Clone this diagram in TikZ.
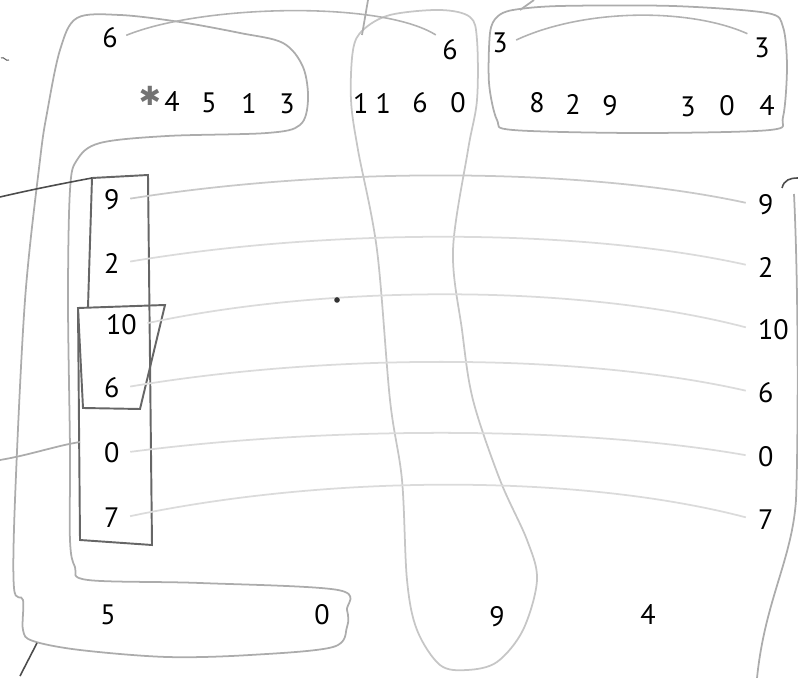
\documentclass[tikz,border=0pt]{standalone}
\usepackage{fontspec}
\newfontfamily\digitfont{PT Sans}
\newfontfamily\symfont{DejaVu Sans}
\tikzset{
  num/.style={font=\digitfont\fontsize{16}{18}\selectfont,text=black,inner sep=1pt},
  star/.style={font=\symfont\fontsize{15}{16}\selectfont,text=black!55,inner sep=0pt},
  rim/.style={gray!65,line width=1pt},
  blob/.style={gray!45,line width=1pt},
  frm/.style={black!60,line width=1.1pt},
  lane/.style={gray!28,line width=1pt,shorten <=5pt,shorten >=6pt},
  tie/.style={gray!60,line width=0.9pt,shorten <=4pt,shorten >=3pt},
  pen/.style={black!70,line width=0.9pt}
}

\begin{document}
\begin{tikzpicture}[x=0.02cm,y=-0.02cm]
\useasboundingbox (0,0) rectangle (798,678);
\draw[rim] plot[smooth cycle,tension=0.55] coordinates {(77,18) (120,15) (180,22) (240,33) (283,43) (303,67) (308,100) (300,125) (267,133) (167,136) (100,143) (77,160) (70,190) (68,300) (70,450) (70,540) (75,567) (88,580) (200,583) (338,590) (347,610) (347,627) (333,647) (250,655) (167,657) (80,650) (33,641) (23,630) (23,600) (14,588) (15,500) (25,300) (40,160) (47,113) (60,50)};
\draw[blob] plot[smooth cycle,tension=0.55] coordinates {(353,50) (363,30) (390,15) (440,10) (470,17) (477,40) (477,100) (468,150) (453,250) (462,330) (473,400) (500,480) (527,540) (537,580) (523,630) (497,662) (467,670) (440,665) (417,630) (407,580) (402,480) (390,400) (377,250) (358,150) (351,100)};
\draw[rim] plot[smooth cycle,tension=0.5] coordinates {(497,17) (490,33) (489,83) (497,120) (513,130) (640,133) (770,130) (783,117) (787,67) (783,27) (767,13) (673,6) (560,6) (513,10)};
\draw[frm] (88,307) -- (92,178) coordinate (bx) -- (148,175) -- (152,545) -- (80,540) -- (78,308);
\draw[frm] (78,308) -- (165,305) -- (140,409) -- (83,408) -- cycle;

\node[num] (t6) at (110,38) {6};
\node[star] (st) at (150,96) {✱};
\node[num] (a4) at (172,102) {4};
\node[num] (a5) at (209,103) {5};
\node[num] (a1) at (249,103) {1};
\node[num] (a3) at (287,104) {3};
\node[num] (m6) at (450,50) {6};
\node[num] (m11) at (372,103) {1\hspace{4pt}1};
\node[num] (m6b) at (420,103) {6};
\node[num] (m0) at (458,103) {0};
\node[num] (r3a) at (500,43) {3};
\node[num] (r3b) at (762,48) {3};
\node[num] (b8) at (537,103) {8};
\node[num] (b2) at (573,104) {2};
\node[num] (b9) at (610,106) {9};
\node[num] (b3) at (688,107) {3};
\node[num] (b0) at (727,106) {0};
\node[num] (b4) at (767,106) {4};

\node[num,anchor=west] (l9) at (102,200) {9};
\node[num,anchor=west] (l2) at (102,263) {2};
\node[num,anchor=west] (l10) at (104,325) {10};
\node[num,anchor=west] (l6) at (102,388) {6};
\node[num,anchor=west] (l0) at (102,453) {0};
\node[num,anchor=west] (l7) at (102,518) {7};
\node[num,anchor=west] (r9) at (756,205) {9};
\node[num,anchor=west] (r2) at (756,267) {2};
\node[num,anchor=west] (r10) at (756,330) {10};
\node[num,anchor=west] (r6) at (756,393) {6};
\node[num,anchor=west] (r0) at (756,457) {0};
\node[num,anchor=west] (r7) at (756,520) {7};

\node[num] (u5) at (108,615) {5};
\node[num] (u0) at (322,615) {0};
\node[num] (u9) at (497,617) {9};
\node[num] (u4) at (648,615) {4};

\draw[lane,gray!42] (l9.east) .. controls (330,167) and (580,167) .. (r9.west);
\draw[lane] (l2.east) .. controls (330,228) and (580,228) .. (r2.west);
\draw[lane] (l10.east) .. controls (330,284) and (580,284) .. (r10.west);
\draw[lane] (l6.east) .. controls (330,353) and (580,353) .. (r6.west);
\draw[lane] (l0.east) .. controls (330,426) and (580,426) .. (r0.west);
\draw[lane] (l7.east) .. controls (330,474) and (580,474) .. (r7.west);
\draw[tie] (t6.east) .. controls (200,5) and (380,0) .. (m6.north west);
\draw[tie] (r3a.east) .. controls (585,8) and (690,8) .. (r3b.north west);

\coordinate (w1) at (0,197);
\coordinate (w2) at (0,460);
\draw[pen] (w1) .. controls (30,190) and (60,184) .. (bx);
\draw[rim] (w2) .. controls (30,455) and (55,446) .. (80,442);
\draw[rim] (368,0) -- (362,35);
\draw[rim] (534,0) -- (520,10);
\draw[pen] (37,643) -- (20,676);
\draw[pen] (782,188) .. controls (784,180) and (790,178) .. (798,178);
\draw[rim] (794,194) .. controls (799,300) and (798,450) .. (796,500) .. controls (792,560) and (765,600) .. (757,678);
\draw[black!60,line width=0.6pt] (1,58) .. controls (4,56) and (6,62) .. (9,60);
\fill[black!80] (337,300) circle (1.6pt);
\end{tikzpicture}
\end{document}
